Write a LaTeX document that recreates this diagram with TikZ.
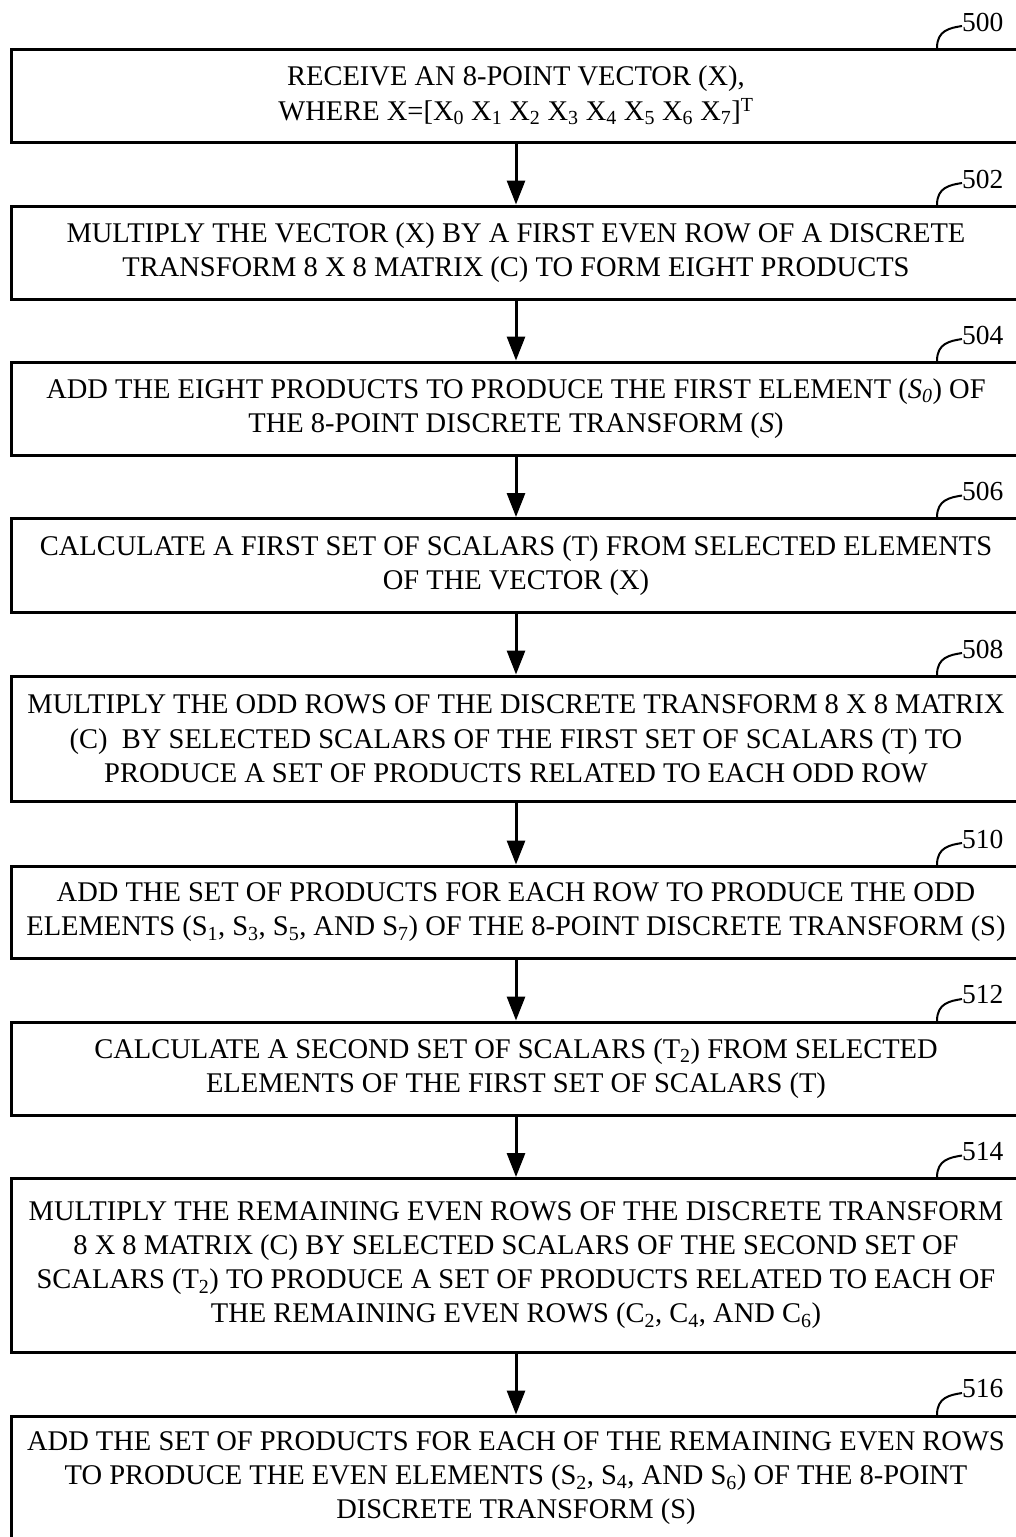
\documentclass[tikz,border=0pt]{standalone}
\usepackage{fontspec}
\setmainfont{Liberation Serif}
\usetikzlibrary{arrows.meta}
\tikzset{
  stepbox/.style={draw, line width=3pt, rectangle, inner sep=0pt, minimum width=1010pt, align=center,
    font=\fontsize{28.5}{34.2}\selectfont},
  flow/.style={line width=3pt, -{Triangle[length=24pt,width=18pt]}},
  reflbl/.style={anchor=west, inner sep=0pt, font=\fontsize{27.5}{30}\selectfont},
  leader/.style={line width=2pt}
}
\begin{document}
\begin{tikzpicture}[x=1pt,y=-1pt]
\useasboundingbox (0,0) rectangle (1016,1537);
\node[stepbox, minimum height=93pt] (b500) at (516,95.5) {RECEIVE AN 8-POINT VECTOR (X),\\
WHERE X=[X\textsubscript{0} X\textsubscript{1} X\textsubscript{2} X\textsubscript{3} X\textsubscript{4} X\textsubscript{5} X\textsubscript{6} X\textsubscript{7}]\textsuperscript{T}};
\node[stepbox, minimum height=93pt] (b502) at (516,252.5) {MULTIPLY THE VECTOR (X) BY A FIRST EVEN ROW OF A DISCRETE\\
TRANSFORM 8 X 8 MATRIX (C) TO FORM EIGHT PRODUCTS};
\node[stepbox, minimum height=93pt] (b504) at (516,408.5) {ADD THE EIGHT PRODUCTS TO PRODUCE THE FIRST ELEMENT (\textit{S\textsubscript{0}}) OF\\
THE 8-POINT DISCRETE TRANSFORM (\textit{S})};
\node[stepbox, minimum height=93.5pt] (b506) at (516,565.25) {CALCULATE A FIRST SET OF SCALARS (T) FROM SELECTED ELEMENTS\\
OF THE VECTOR (X)};
\node[stepbox, minimum height=125.5pt] (b508) at (516,738.75) {MULTIPLY THE ODD ROWS OF THE DISCRETE TRANSFORM 8 X 8 MATRIX\\
(C)\ \ BY SELECTED SCALARS OF THE FIRST SET OF SCALARS (T) TO\\
PRODUCE A SET OF PRODUCTS RELATED TO EACH ODD ROW};
\node[stepbox, minimum height=92.5pt] (b510) at (516,912.25) {ADD THE SET OF PRODUCTS FOR EACH ROW TO PRODUCE THE ODD\\
ELEMENTS (S\textsubscript{1}, S\textsubscript{3}, S\textsubscript{5}, AND S\textsubscript{7}) OF THE 8-POINT DISCRETE TRANSFORM (S)};
\node[stepbox, minimum height=93pt] (b512) at (516,1068.5) {CALCULATE A SECOND SET OF SCALARS (T\textsubscript{2}) FROM SELECTED\\
ELEMENTS OF THE FIRST SET OF SCALARS (T)};
\node[stepbox, minimum height=173.5pt] (b514) at (516,1265.25) {MULTIPLY THE REMAINING EVEN ROWS OF THE DISCRETE TRANSFORM\\
8 X 8 MATRIX (C) BY SELECTED SCALARS OF THE SECOND SET OF\\
SCALARS (T\textsubscript{2}) TO PRODUCE A SET OF PRODUCTS RELATED TO EACH OF\\
THE REMAINING EVEN ROWS (C\textsubscript{2}, C\textsubscript{4}, AND C\textsubscript{6})};
\node[stepbox, minimum height=124pt] (b516) at (516,1478) {ADD THE SET OF PRODUCTS FOR EACH OF THE REMAINING EVEN ROWS\\
TO PRODUCE THE EVEN ELEMENTS (S\textsubscript{2}, S\textsubscript{4}, AND S\textsubscript{6}) OF THE 8-POINT\\
DISCRETE TRANSFORM (S)};
\draw[flow] (b500.south) -- (b502.north);
\draw[flow] (b502.south) -- (b504.north);
\draw[flow] (b504.south) -- (b506.north);
\draw[flow] (b506.south) -- (b508.north);
\draw[flow] (b508.south) -- (b510.north);
\draw[flow] (b510.south) -- (b512.north);
\draw[flow] (b512.south) -- (b514.north);
\draw[flow] (b514.south) -- (b516.north);
\foreach \n/\t in {500/49,502/206,504/362,506/518.5,508/676,510/866,512/1022,514/1178.5,516/1416}{
  \coordinate (c\n) at (937,\t-1);
  \node[reflbl] (n\n) at (962,\t-27) {\n};
  \draw[leader] (c\n) .. controls +(0,-18) and +(-12,2) .. ([yshift=-4pt]n\n.west);
}
\end{tikzpicture}
\end{document}
